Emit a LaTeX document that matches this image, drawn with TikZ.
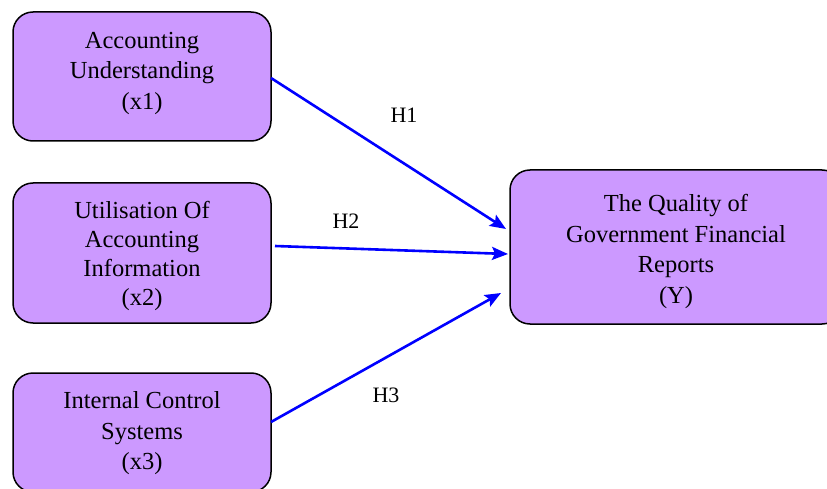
\documentclass[tikz,border=0pt]{standalone}
\usepackage{fontspec}
\setmainfont{Liberation Serif}
\newfontfamily\tnr{Liberation Serif}
\usetikzlibrary{arrows.meta}
\definecolor{boxfill}{RGB}{204,153,255}
\definecolor{arrblue}{RGB}{0,0,255}
\tikzset{
  boxshape/.style={draw=black, line width=1.5pt, fill=boxfill, rounded corners=20pt, inner sep=0pt},
  boxtext/.style={align=center, font=\tnr\fontsize{24.5}{30.5}\selectfont, inner sep=0pt},
  arr/.style={draw=arrblue, line width=2.6pt, -{Stealth[length=16pt,width=13pt,inset=3pt]}},
  hlabel/.style={font=\tnr\fontsize{22}{26}\selectfont, inner sep=0pt}
}
\begin{document}
\begin{tikzpicture}[x=1pt,y=-1pt]
\useasboundingbox (0,0) rectangle (827,489);
% boxes
\node[boxshape, minimum width=258pt, minimum height=129pt] (b1) at (142,76.5) {};
\node[boxshape, minimum width=258pt, minimum height=140pt] (b2) at (142,253) {};
\node[boxshape, minimum width=258pt, minimum height=119pt] (b3) at (142,432.5) {};
\node[boxshape, minimum width=332pt, minimum height=154pt] (by) at (676,247) {};
% texts
\node[boxtext] (t1) at (142,73) {Accounting\\Understanding\\(x1)};
\node[boxtext, font=\tnr\fontsize{24.5}{28.8}\selectfont] (t2) at (142,256) {Utilisation Of\\Accounting\\Information\\(x2)};
\node[boxtext] (t3) at (142,433.5) {Internal Control\\Systems\\(x3)};
\node[boxtext] (ty) at (676,251.5) {The Quality of\\Government Financial\\Reports\\(Y)};
% arrow endpoints
\coordinate (s1) at (271,78);
\coordinate (e1) at (506,229);
\coordinate (s2) at (275,246);
\coordinate (e2) at (508,254);
\coordinate (s3) at (271,422);
\coordinate (e3) at (501,293);
\draw[arr] (s1) -- (e1);
\draw[arr] (s2) -- (e2);
\draw[arr] (s3) -- (e3);
% labels
\node[hlabel] (h1) at (404,115) {H1};
\node[hlabel] (h2) at (346,221) {H2};
\node[hlabel] (h3) at (386,395) {H3};
\end{tikzpicture}
\end{document}
